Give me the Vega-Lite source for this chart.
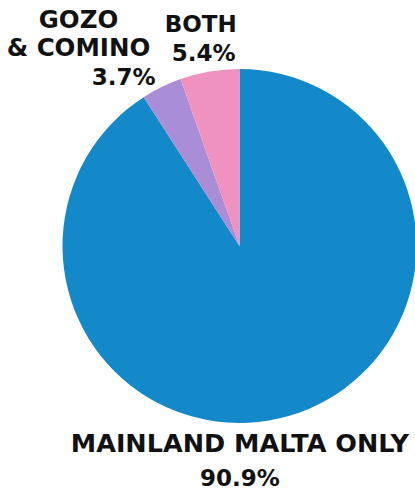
{
  "$schema": "https://vega.github.io/schema/vega-lite/v6.json",
  "width": 351,
  "height": 488,
  "autosize": "none",
  "padding": {"left": 64, "top": 2, "right": 0, "bottom": 0},
  "config": {"view": {"stroke": null}},
  "data": {
    "values": [
      {"region": "MAINLAND MALTA ONLY", "share": 0.909, "order": 1},
      {"region": "GOZO\n& COMINO", "share": 0.037, "order": 2},
      {"region": "BOTH", "share": 0.054, "order": 3}
    ]
  },
  "encoding": {
    "theta": {"field": "share", "type": "quantitative", "stack": true},
    "order": {"field": "order", "type": "quantitative"}
  },
  "layer": [
    {
      "mark": {"type": "arc", "outerRadius": 177},
      "encoding": {
        "color": {
          "field": "region",
          "type": "nominal",
          "scale": {
            "domain": ["MAINLAND MALTA ONLY", "GOZO\n& COMINO", "BOTH"],
            "range": ["#1489CA", "#A98ED7", "#F092C0"]
          },
          "legend": null
        }
      }
    },
    {
      "mark": {"type": "text", "radius": 200, "dx": -56, "dy": 14, "align": "center", "baseline": "alphabetic", "font": "DejaVu Sans", "fontWeight": "bold", "fontSize": 25.5, "color": "#111111"},
      "encoding": {
        "detail": {"field": "region", "type": "nominal"},
        "text": {"condition": {"test": "datum.order === 1", "field": "region", "type": "nominal"}, "value": ""}
      }
    },
    {
      "mark": {"type": "text", "radius": 200, "dx": -56, "dy": 48, "align": "center", "baseline": "alphabetic", "font": "DejaVu Sans", "fontWeight": "bold", "fontSize": 23, "color": "#111111"},
      "encoding": {
        "detail": {"field": "region", "type": "nominal"},
        "text": {"condition": {"test": "datum.order === 1", "field": "share", "type": "quantitative", "format": ".1%"}, "value": ""}
      }
    },
    {
      "mark": {"type": "text", "radius": 200, "dx": -73, "dy": -38, "align": "center", "baseline": "alphabetic", "lineBreak": "\n", "lineHeight": 28, "font": "DejaVu Sans", "fontWeight": "bold", "fontSize": 24.5, "color": "#111111"},
      "encoding": {
        "detail": {"field": "region", "type": "nominal"},
        "text": {"condition": {"test": "datum.order === 2", "field": "region", "type": "nominal"}, "value": ""}
      }
    },
    {
      "mark": {"type": "text", "radius": 200, "dx": 4, "dy": 19, "align": "right", "baseline": "alphabetic", "font": "DejaVu Sans", "fontWeight": "bold", "fontSize": 23, "color": "#111111"},
      "encoding": {
        "detail": {"field": "region", "type": "nominal"},
        "text": {"condition": {"test": "datum.order === 2", "field": "share", "type": "quantitative", "format": ".1%"}, "value": ""}
      }
    },
    {
      "mark": {"type": "text", "radius": 200, "dx": -5, "dy": -17, "align": "center", "baseline": "alphabetic", "font": "DejaVu Sans", "fontWeight": "bold", "fontSize": 23, "color": "#111111"},
      "encoding": {
        "detail": {"field": "region", "type": "nominal"},
        "text": {"condition": {"test": "datum.order === 3", "field": "region", "type": "nominal"}, "value": ""}
      }
    },
    {
      "mark": {"type": "text", "radius": 200, "dx": -2, "dy": 12, "align": "center", "baseline": "alphabetic", "font": "DejaVu Sans", "fontWeight": "bold", "fontSize": 23, "color": "#111111"},
      "encoding": {
        "detail": {"field": "region", "type": "nominal"},
        "text": {"condition": {"test": "datum.order === 3", "field": "share", "type": "quantitative", "format": ".1%"}, "value": ""}
      }
    }
  ]
}
